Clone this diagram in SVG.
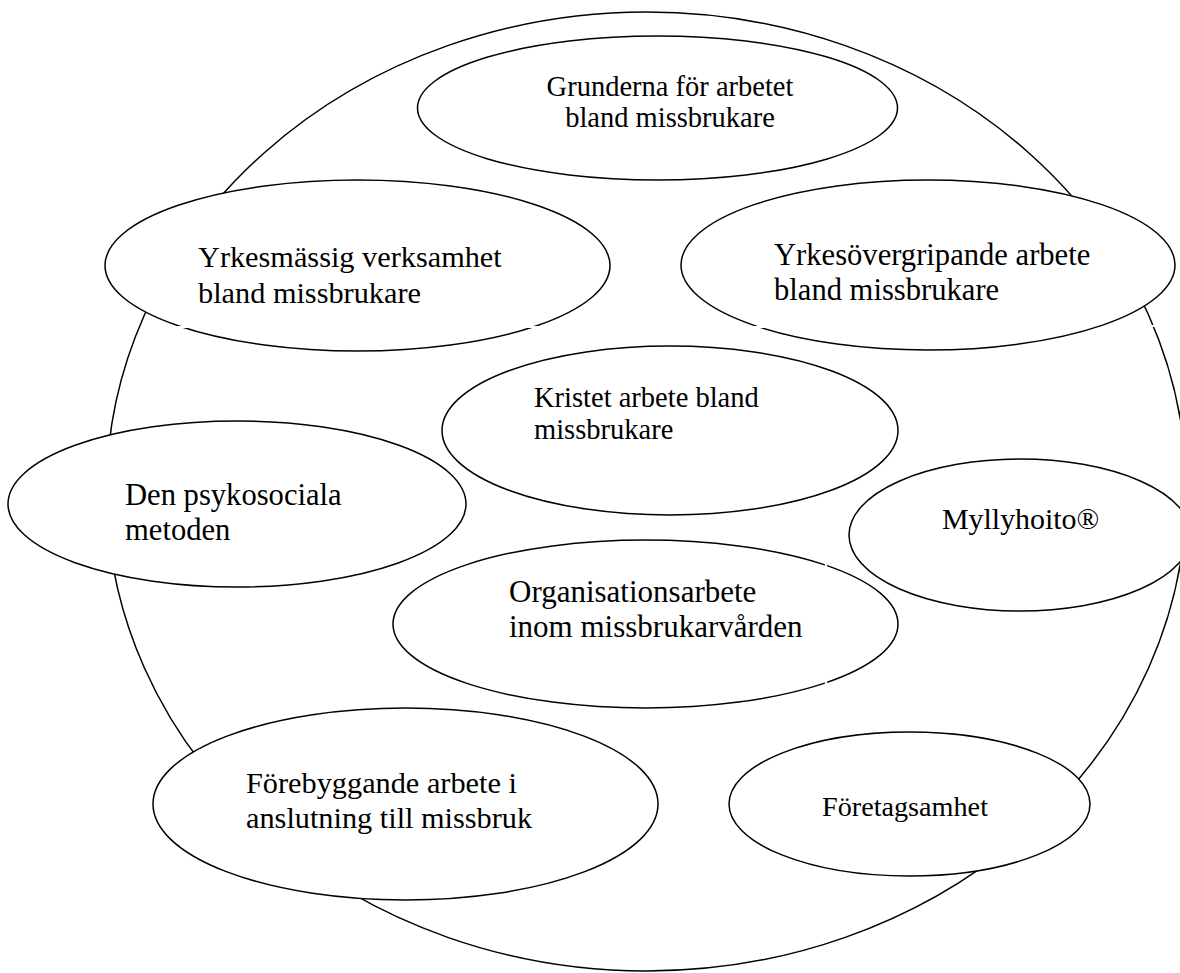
<svg xmlns="http://www.w3.org/2000/svg" width="1180" height="973" viewBox="0 0 1180 973">
<style>
.ring{fill:#ffffff;stroke:#000000;stroke-width:1.5}
.node{fill:#ffffff;stroke:#000000;stroke-width:1.5}
.gap{stroke:#ffffff;stroke-width:2.2;fill:none}
text{font-family:"Liberation Serif","Times New Roman",serif;fill:#000000}
</style>
<rect x="0" y="0" width="1180" height="973" fill="#ffffff"/>
<g id="boundary">
<ellipse class="ring" cx="646.5" cy="491.5" rx="540" ry="479.5"/>
</g>
<g id="connectors"></g>
<g id="n-grunderna">
<ellipse class="node" cx="657.5" cy="108" rx="240" ry="72"/>
<text x="670" y="96" font-size="28.5" text-anchor="middle">Grunderna för arbetet</text>
<text x="670" y="127" font-size="28.5" text-anchor="middle">bland missbrukare</text>
</g>
<g id="n-yrkesmassig">
<ellipse class="node" cx="357.5" cy="265.5" rx="252.5" ry="85.5"/>
<text x="198" y="267" font-size="30.3">Yrkesmässig verksamhet</text>
<text x="198" y="303" font-size="30.3">bland missbrukare</text>
<path class="gap" d="M165 327H196M516 327H548"/>
</g>
<g id="n-yrkesovergripande">
<ellipse class="node" cx="928" cy="265" rx="247" ry="85"/>
<text x="774" y="265" font-size="30.6">Yrkesövergripande arbete</text>
<text x="774" y="300" font-size="30.6">bland missbrukare</text>
<path class="gap" d="M745 327H770M1140 326H1160"/>
</g>
<g id="n-kristet">
<ellipse class="node" cx="670" cy="430.5" rx="228" ry="84.5"/>
<text x="534" y="406.5" font-size="28.5">Kristet arbete bland</text>
<text x="534" y="439" font-size="28.5">missbrukare</text>
</g>
<g id="n-psykosociala">
<ellipse class="node" cx="237" cy="504" rx="229" ry="83"/>
<text x="125" y="505" font-size="30.6">Den psykosociala</text>
<text x="125" y="540" font-size="30.6">metoden</text>
</g>
<g id="n-myllyhoito">
<ellipse class="node" cx="1020" cy="535" rx="171" ry="76"/>
<text x="942" y="529" font-size="29.9">Myllyhoito®</text>
</g>
<g id="n-organisation">
<ellipse class="node" cx="645.5" cy="624" rx="252.5" ry="84"/>
<text x="509" y="602" font-size="31">Organisationsarbete</text>
<text x="509" y="637" font-size="31">inom missbrukarvården</text>
<path class="gap" d="M826 552V574M826 672V692"/>
</g>
<g id="n-forebyggande">
<ellipse class="node" cx="405.5" cy="804" rx="252.5" ry="96"/>
<text x="246" y="793" font-size="30.3">Förebyggande arbete i</text>
<text x="246" y="828" font-size="30.3">anslutning till missbruk</text>
</g>
<g id="n-foretagsamhet">
<ellipse class="node" cx="909.5" cy="804" rx="180.5" ry="72"/>
<text x="905" y="816" font-size="28.2" text-anchor="middle">Företagsamhet</text>
</g>
</svg>
